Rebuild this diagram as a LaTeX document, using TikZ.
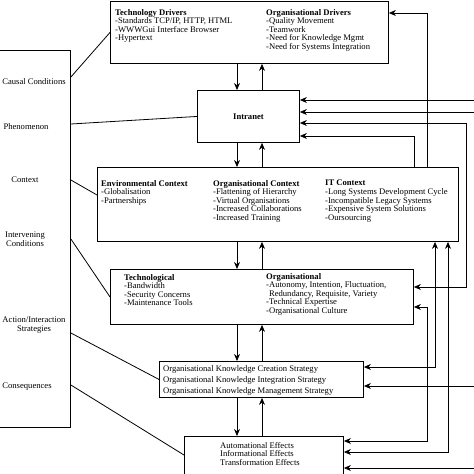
\documentclass[tikz,border=0pt]{standalone}
\usepackage{fontspec}
\setmainfont{Liberation Serif}
\usetikzlibrary{arrows.meta,calc}
\begin{document}
\begin{tikzpicture}[x=1pt,y=-1pt,
  box/.style={draw, line width=0.9pt, inner sep=0pt, anchor=north west},
  txt/.style={inner sep=0pt, anchor=north west, align=left, font=\fontsize{8.6}{8.6}\selectfont},
  lbl/.style={inner sep=0pt, align=center, font=\fontsize{8.6}{8.4}\selectfont},
  conn/.style={line width=0.8pt},
  arr/.style={line width=0.8pt, -{Stealth[length=7pt,width=6pt]}},
  darr/.style={line width=0.8pt, {Stealth[length=7pt,width=6pt]}-{Stealth[length=7pt,width=6pt]}}]
\useasboundingbox (0,0) rectangle (474,474);

% boxes
\node[box, minimum width=90pt, minimum height=377pt] (left) at (-20,50) {};
\node[box, minimum width=278pt, minimum height=62pt] (drivers) at (110,1) {};
\node[box, minimum width=102pt, minimum height=52pt, font=\fontsize{8.6}{8.6}\selectfont\bfseries] (intranet) at (197,90) {Intranet};
\node[box, minimum width=361pt, minimum height=74pt] (env) at (97,167) {};
\node[box, minimum width=303pt, minimum height=55pt] (tech) at (110,269) {};
\node[box, minimum width=204pt, minimum height=36pt] (strat) at (159,361) {};
\node[box, minimum width=159pt, minimum height=42pt] (effects) at (184,436) {};

% left labels
\node[lbl] (causal) at (34,82) {Causal Conditions};
\node[lbl] (phen) at (26,127) {Phenomenon};
\node[lbl] (context) at (25,180) {Context};
\node[lbl] (interv) at (25,239) {Intervening\\Conditions};
\node[lbl] (action) at (34,325) {Action/Interaction\\Strategies};
\node[lbl] (conseq) at (27,387) {Consequences};

% box texts
\node[txt] (tdrv) at (115,9) {\textbf{Technology Drivers}\\-Standards TCP/IP, HTTP, HTML\\-WWWGui Interface Browser\\-Hypertext};
\node[txt] (odrv) at (266,9) {\textbf{Organisational Drivers}\\-Quality Movement\\-Teamwork\\-Need for Knowledge Mgmt\\-Need for Systems Integration};
\node[txt] (envc) at (101,180) {\textbf{Environmental Context}\\-Globalisation\\-Partnerships};
\node[txt] (orgc) at (213,180) {\textbf{Organisational Context}\\-Flattening of Hierarchy\\-Virtual Organisations\\-Increased Collaborations\\-Increased Training};
\node[txt] (itc) at (325,180) {\textbf{IT Context}\\-Long Systems Development Cycle\\-Incompatible Legacy Systems\\-Expensive System Solutions\\-Oursourcing};
\node[txt] (techl) at (124,274) {\textbf{Technological}\\-Bandwidth\\-Security Concerns\\-Maintenance Tools};
\node[txt] (orgl) at (266,273) {\textbf{Organisational}\\-Autonomy, Intention, Fluctuation,\\\phantom{-}Redundancy, Requisite, Variety\\-Technical Expertise\\-Organisational Culture};
\node[txt, font=\fontsize{8.6}{11.2}\selectfont] (stratt) at (163,365) {Organisational Knowledge Creation Strategy\\Organisational Knowledge Integration Strategy\\Organisational Knowledge Management Strategy};
\node[txt] (efft) at (220,442) {Automational Effects\\Informational Effects\\Transformation Effects};

% left connectors
\draw[conn] (left.north east |- 0,77) -- (drivers.west);
\draw[conn] (left.north east |- 0,124) -- (intranet.west);
\draw[conn] (left.north east |- 0,180) -- (env.west |- 0,195);
\draw[conn] (left.north east |- 0,239) -- (tech.west);
\draw[conn] (left.north east |- 0,333) -- (strat.west);
\draw[conn] (left.north east |- 0,385) -- (effects.west |- 0,455);

% vertical pairs
\coordinate (dn) at (237,0);
\coordinate (up) at (262,0);
\draw[arr] (drivers.south -| dn) -- (intranet.north -| dn);
\draw[arr] (intranet.north -| up) -- (drivers.south -| up);
\draw[arr] (intranet.south -| dn) -- (env.north -| dn);
\draw[arr] (env.north -| up) -- (intranet.south -| up);
\draw[arr] (env.south -| dn) -- (tech.north -| dn);
\draw[arr] (tech.north -| up) -- (env.south -| up);
\draw[arr] (tech.south -| dn) -- (strat.north -| dn);
\draw[arr] (strat.north -| up) -- (tech.south -| up);
\draw[arr] (strat.south -| dn) -- (effects.north -| dn);
\draw[arr] (effects.north -| up) -- (strat.south -| up);

% right-side lanes
\coordinate (lA) at (414,0);
\coordinate (lB) at (427,0);
\coordinate (lC) at (466,0);
\coordinate (lE) at (435,0);
\coordinate (lF) at (448,0);
\coordinate (edge) at (480,0);

\draw[arr] (env.north -| lB) |- (drivers.east |- 0,13);
\draw[arr] (env.north -| lA) |- (intranet.east |- 0,136);
\draw[arr] (edge |- 0,100) -- (intranet.east |- 0,100);
\draw[arr] (edge |- 0,112) -- (intranet.east |- 0,112);
\draw[darr] (intranet.east |- 0,123) -| (lC |- 0,287) -- (tech.east |- 0,287);
\draw[darr] (tech.east |- 0,307) -| (lB |- 0,441) -- (effects.east |- 0,441);
\draw[darr] (env.south -| lE) |- (strat.east |- 0,367);
\draw[darr] (env.south -| lF) |- (effects.east |- 0,452);
\draw[arr] (edge |- 0,386) -- (strat.east |- 0,386);
\draw[arr] (edge |- 0,468) -- (effects.east |- 0,468);
\end{tikzpicture}
\end{document}
